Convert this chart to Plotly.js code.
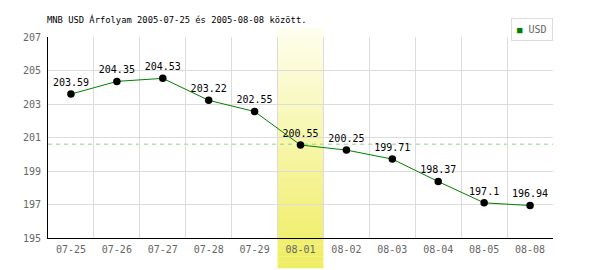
<!DOCTYPE html>
<html>
<head>
<meta charset="utf-8">
<script src="https://cdn.plot.ly/plotly-3.0.1.min.js"></script>
<style>html,body{margin:0;padding:0;background:#fff;}#chart{width:600px;height:270px;}</style>
</head>
<body>
<div id="chart"></div>
<script>
const dates = ["07-25","07-26","07-27","07-28","07-29","08-01","08-02","08-03","08-04","08-05","08-08"];
const rates = [203.59,204.35,204.53,203.22,202.55,200.55,200.25,199.71,198.37,197.1,196.94];
const rateLabels = ["203.59","204.35","204.53","203.22","202.55","200.55","200.25","199.71","198.37","197.1","196.94"];
const avgLine = 200.6;
const yTicks = [195,197,199,201,203,205,207];
const highlightDate = "08-01";
const seriesName = "USD";
const titleText = "MNB USD Árfolyam 2005-07-25 és 2005-08-08 között.";

const mono = "DejaVu Sans Mono, monospace";

// gradient highlight band
const shapes = [];
const hi = dates.indexOf(highlightDate);
const n = dates.length;
const bx0 = hi / n, bx1 = (hi + 1) / n;
const yTop = 1.045, yBot = -0.15, steps = 40;
for (let i = 0; i < steps; i++) {
  const t = (i + 0.5) / steps;
  const r = Math.round(254 + (239 - 254) * t);
  const g = Math.round(254 + (237 - 254) * t);
  const b = Math.round(238 + (96 - 238) * t);
  shapes.push({
    type: "rect", xref: "paper", yref: "paper",
    x0: bx0, x1: bx1,
    y0: yTop - (yTop - yBot) * i / steps,
    y1: yTop - (yTop - yBot) * (i + 1) / steps - 0.0001,
    fillcolor: `rgb(${r},${g},${b})`, line: {width: 0}, layer: "between"
  });
}
shapes.push({
  type: "line", xref: "paper", yref: "y", x0: 0, x1: 1, y0: avgLine, y1: avgLine,
  line: {color: "#8fd68f", width: 1, dash: "4px,4px"}, layer: "between"
});

const traces = [{
  x: dates, y: rates, text: rateLabels, type: "scatter",
  mode: "lines+markers+text", textposition: "top center",
  textfont: {family: mono, size: 10, color: "#000"},
  line: {color: "#008000", width: 1},
  marker: {color: "#000", size: 7.5},
  cliponaxis: false, showlegend: false, hoverinfo: "none"
}];

const layout = {
  width: 600, height: 270,
  margin: {l: 48, r: 47, t: 37, b: 32},
  paper_bgcolor: "#fff", plot_bgcolor: "#fff",
  showlegend: false,
  title: {text: titleText, x: 47/600, xanchor: "left", y: 1 - 20/270, yanchor: "middle",
          font: {family: mono, size: 8.8, color: "#000"}},
  xaxis: {
    type: "category", categoryorder: "array", categoryarray: dates,
    range: [-0.5, n - 0.5], tickson: "boundaries",
    showgrid: true, gridcolor: "#dcdcdc", gridwidth: 1,
    showline: true, linecolor: "#000", linewidth: 1,
    ticks: "", ticklabelstandoff: 2,
    tickfont: {family: mono, size: 10, color: "#666"},
    zeroline: false, fixedrange: true
  },
  yaxis: {
    range: [195, 207], tickvals: yTicks, ticktext: yTicks.map(String),
    showgrid: true, gridcolor: "#dcdcdc", gridwidth: 1,
    showline: true, linecolor: "#000", linewidth: 1,
    ticks: "", ticklabelstandoff: 4,
    tickfont: {family: mono, size: 10, color: "#666"},
    zeroline: false, fixedrange: true
  },
  shapes: shapes,
  annotations: [{
    xref: "paper", yref: "paper", x: 1, y: (238 - 18) / 201, xanchor: "right", yanchor: "top",
    text: '<span style="color:#008000;font-size:9px">■</span> ' + seriesName,
    showarrow: false, font: {family: mono, size: 10, color: "#666"},
    bgcolor: "#fff", bordercolor: "#dcdcdc", borderwidth: 1, borderpad: 5
  }]
};

Plotly.newPlot("chart", traces, layout, {displayModeBar: false, staticPlot: true});
</script>
</body>
</html>
